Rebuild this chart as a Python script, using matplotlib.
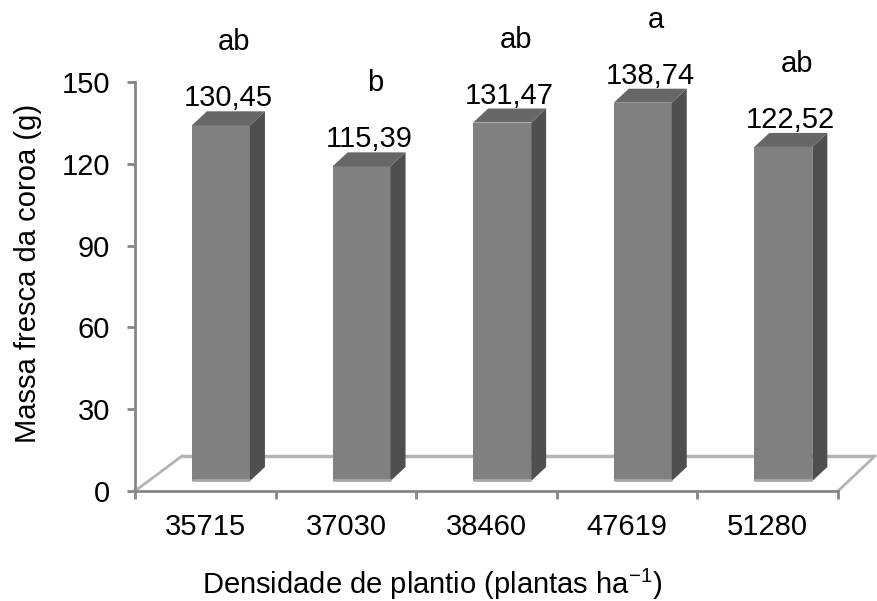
import numpy as np
import matplotlib.pyplot as plt
from matplotlib.patches import Polygon

plt.rcParams['font.family'] = ['Liberation Sans', 'DejaVu Sans']
plt.rcParams['mathtext.fontset'] = 'custom'
plt.rcParams['mathtext.rm'] = 'Liberation Sans'

categories = ['35715', '37030', '38460', '47619', '51280']
values = [130.45, 115.39, 131.47, 138.74, 122.52]
value_labels = ['130,45', '115,39', '131,47', '138,74', '122,52']
letters = ['ab', 'b', 'ab', 'a', 'ab']
yticks = [0, 30, 60, 90, 120, 150]

AXIS = '#868686'
FRONT = '#808080'
SIDE = '#4f4f4f'
TOP = '#676767'
FLOOR = '#b4b4b4'
FS = 21

W, H = 877, 601
fig = plt.figure(figsize=(W / 100, H / 100), dpi=100)
x0, x1, y0, y1 = 135, 838, 491, 82
ax = fig.add_axes([x0 / W, 1 - y0 / H, (x1 - x0) / W, (y0 - y1) / H])
ax.set_xlim(0, 5)
ax.set_ylim(0, 150)

# pixel -> data scales
px_x = 5 / (x1 - x0)
px_y = 150 / (y0 - y1)

# 3D offsets
ddx, ddy = 15 * px_x, 14 * px_y
base = 10 * px_y
floor_dx_l, floor_dx_r, floor_dy = 47 * px_x, 37 * px_x, 35 * px_y

# floor
ax.plot([floor_dx_l, 5 + floor_dx_r], [floor_dy, floor_dy], color=FLOOR, lw=2.5,
        clip_on=False, zorder=1, solid_capstyle='butt')
ax.plot([0, floor_dx_l], [0, floor_dy], color=FLOOR, lw=2.0, clip_on=False, zorder=1)
ax.plot([5, 5 + floor_dx_r], [0, floor_dy], color=FLOOR, lw=2.0, clip_on=False, zorder=1)

bw = 58 * px_x
for i, v in enumerate(values):
    left = i + 0.405
    ax.bar(left, v, width=bw, bottom=base, align='edge', color=FRONT,
           edgecolor='none', zorder=3)
    side = Polygon([(left + bw, base), (left + bw + ddx, base + ddy),
                    (left + bw + ddx, base + v + ddy), (left + bw, base + v)],
                   closed=True, facecolor=SIDE, edgecolor='none', zorder=3, clip_on=False)
    top = Polygon([(left, base + v), (left + ddx, base + v + ddy),
                   (left + bw + ddx, base + v + ddy), (left + bw, base + v)],
                  closed=True, facecolor=TOP, edgecolor='none', zorder=3, clip_on=False)
    ax.add_patch(side)
    ax.add_patch(top)
    ax.plot([left, left + bw], [base + 0.4, base + 0.4], color='#a8a8a8', lw=2,
            zorder=4, solid_capstyle='butt')
    cx = left + (bw + ddx) / 2
    ax.text(cx, base + v + 19 * px_y, value_labels[i], ha='center', va='baseline',
            fontsize=FS, clip_on=False)
    ax.text(cx + 6 * px_x, base + v + 75 * px_y, letters[i], ha='center', va='baseline',
            fontsize=FS, clip_on=False)

for s in ['top', 'right']:
    ax.spines[s].set_visible(False)
for s in ['left', 'bottom']:
    ax.spines[s].set_color(AXIS)
    ax.spines[s].set_linewidth(2)

ax.set_yticks(yticks)
ax.set_yticklabels([str(t) for t in yticks])
ax.set_xticks(np.arange(6))
ax.set_xticklabels([])
ax.set_xticks(np.arange(5) + 0.5, minor=True)
ax.set_xticklabels(categories, minor=True)
ax.tick_params(axis='x', which='major', direction='out', length=5.5, width=2, color=AXIS)
ax.tick_params(axis='x', which='minor', length=0, labelsize=FS, pad=16)
ax.tick_params(axis='y', direction='out', length=6, width=2, color=AXIS,
               labelsize=FS, pad=12)

fig.text(28 / W, 1 - 273 / H, 'Massa fresca da coroa (g)', rotation=90,
         ha='center', va='center', fontsize=FS)
fig.text(432 / W, 1 - 594 / H, 'Densidade de plantio (plantas ha$^{\\mathregular{-1}}$)',
         ha='center', va='baseline', fontsize=FS)

fig.savefig('out.png', dpi=100)
